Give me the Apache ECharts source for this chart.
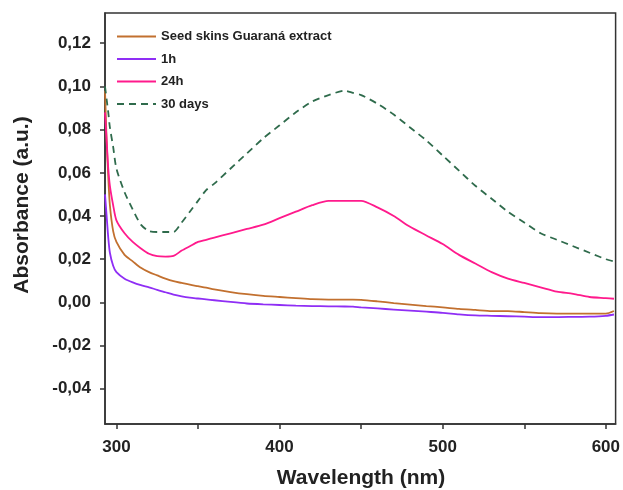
<!DOCTYPE html>
<html><head><meta charset="utf-8">
<script src="https://cdn.jsdelivr.net/npm/echarts@6/dist/echarts.min.js"></script>
<style>html,body{margin:0;padding:0;background:#fff}#c{width:623px;height:490px}</style>
</head><body><div id="c"></div>
<script>
const wavelengths = [293,294,295,296,298,300,305,310,315,320,325,330,335,340,345,350,355,360,370,380,390,400,410,420,430,440,445,450,460,470,480,490,500,510,520,530,540,550,560,570,580,590,600,605];
const seedSkins = [0.098,0.075,0.058,0.045,0.033,0.028,0.022,0.019,0.016,0.014,0.0125,0.011,0.0098,0.009,0.0082,0.0075,0.0068,0.006,0.0048,0.0038,0.003,0.0025,0.002,0.0015,0.0013,0.0013,0.0013,0.0012,0.0005,-0.0003,-0.001,-0.0017,-0.0023,-0.003,-0.0035,-0.004,-0.004,-0.0045,-0.005,-0.0052,-0.0052,-0.0052,-0.0052,-0.004];
const h1 = [0.050,0.040,0.030,0.023,0.017,0.014,0.011,0.0093,0.008,0.007,0.0058,0.0047,0.0036,0.0028,0.0022,0.0018,0.0014,0.001,0.0002,-0.0005,-0.0009,-0.0012,-0.0015,-0.0017,-0.0018,-0.0019,-0.002,-0.0023,-0.0028,-0.0033,-0.0038,-0.0043,-0.0048,-0.0055,-0.006,-0.0062,-0.0064,-0.0066,-0.0068,-0.0068,-0.0067,-0.0066,-0.0062,-0.0056];
const h24 = [0.088,0.075,0.062,0.054,0.045,0.038,0.032,0.028,0.025,0.0225,0.0214,0.0212,0.0215,0.024,0.026,0.028,0.029,0.030,0.032,0.034,0.036,0.039,0.042,0.045,0.047,0.047,0.047,0.047,0.044,0.040,0.035,0.031,0.027,0.022,0.018,0.014,0.011,0.009,0.007,0.005,0.004,0.0025,0.002,0.0017];
const days30 = [0.100,0.094,0.088,0.081,0.072,0.062,0.051,0.043,0.036,0.033,0.0326,0.0326,0.0326,0.037,0.042,0.047,0.052,0.055,0.062,0.069,0.076,0.082,0.088,0.093,0.096,0.098,0.097,0.096,0.092,0.087,0.081,0.075,0.068,0.061,0.054,0.048,0.042,0.037,0.032,0.029,0.026,0.023,0.020,0.019];
const seriesNames = ['Seed skins Guaraná extract','1h','24h','30 days'];
const xTickLabels = [300,400,500,600];
const xTicks = [300,350,400,450,500,550,600];
const yTickLabels = [-0.04,-0.02,0,0.02,0.04,0.06,0.08,0.10,0.12];

const pair = arr => wavelengths.map((w,i)=>[w,arr[i]]);
const FONT = '"Liberation Sans", Arial, sans-serif';
const chart = echarts.init(document.getElementById('c'));
const mk = (name, data, color, type) => ({
  name, type:'line', data: pair(data), showSymbol:false, symbol:'none', symbolSize:0, smooth:0.25,
  lineStyle:{color, width:1.8, type: type||'solid'}, itemStyle:{color}, animation:false
});
chart.setOption({
  animation:false,
  grid:{left:105, top:13, right:6, bottom:66, show:true, borderColor:'#333', borderWidth:1.5},
  legend:{
    left:116, top:30, padding:0, orient:'vertical', itemWidth:39, itemHeight:14, itemGap:9.5,
    itemStyle:{opacity:0},
    textStyle:{fontFamily:FONT, fontWeight:'bold', fontSize:13, color:'#222'},
    data: seriesNames
  },
  xAxis:{
    type:'value', min:293, max:606,
    axisLine:{show:true, onZero:false, lineStyle:{color:'#333', width:1.5}},
    axisTick:{show:true, length:5, lineStyle:{color:'#333', width:1.5}, customValues:xTicks},
    axisLabel:{customValues:xTickLabels, margin:15, fontFamily:FONT, fontWeight:'bold', fontSize:17, color:'#222'},
    splitLine:{show:false}
  },
  yAxis:{
    type:'value', min:-0.0563, max:0.134,
    axisLine:{show:true, onZero:false, lineStyle:{color:'#333', width:1.5}},
    axisTick:{show:true, length:5, lineStyle:{color:'#333', width:1.5}, customValues:yTickLabels},
    axisLabel:{customValues:yTickLabels, margin:14, fontFamily:FONT, fontWeight:'bold', fontSize:17, color:'#222',
      formatter: v => v.toFixed(2).replace('.', ',')},
    splitLine:{show:false}
  },
  graphic:[
    {type:'text', x:22, y:205, rotation:Math.PI/2, style:{text:'Absorbance (a.u.)', font:'bold 21px '+FONT, fill:'#222', align:'center', verticalAlign:'middle'}},
    {type:'text', x:361, y:478, style:{text:'Wavelength (nm)', font:'bold 21px '+FONT, fill:'#222', align:'center', verticalAlign:'middle'}}
  ],
  series:[
    mk(seriesNames[0], seedSkins, '#c2702f'),
    mk(seriesNames[1], h1, '#8f2ef5'),
    mk(seriesNames[2], h24, '#ff1a8c'),
    mk(seriesNames[3], days30, '#2f6b4c', [7,5])
  ]
});
</script></body></html>
